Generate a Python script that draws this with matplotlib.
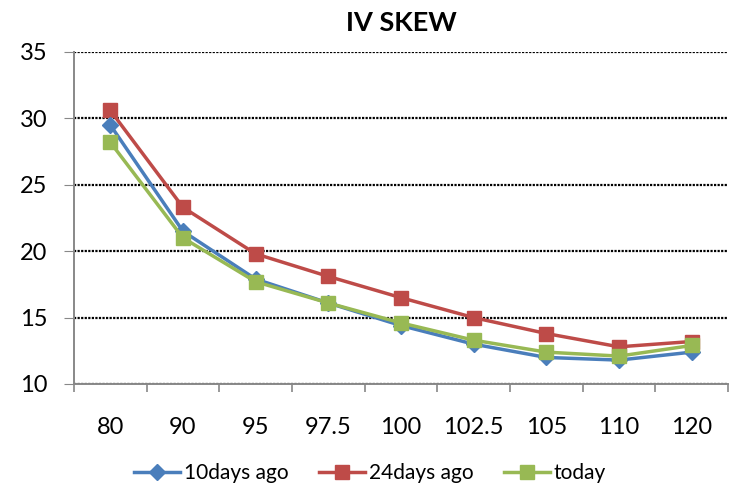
import matplotlib
matplotlib.use("Agg")
import matplotlib.pyplot as plt
from matplotlib.ticker import FixedLocator

categories = ["80", "90", "95", "97.5", "100", "102.5", "105", "110", "120"]
days10 = [29.5, 21.5, 17.9, 16.1, 14.4, 13.0, 12.0, 11.8, 12.4]
days24 = [30.6, 23.3, 19.8, 18.1, 16.5, 15.0, 13.8, 12.8, 13.2]
today = [28.2, 21.0, 17.7, 16.1, 14.6, 13.3, 12.4, 12.1, 12.9]

plt.rcParams['font.family'] = ['Lato', 'DejaVu Sans']

fig = plt.figure(figsize=(7.31, 4.91), dpi=100)
ax = fig.add_axes([74/731, 1-384/491, (728-74)/731, (384-52)/491])

x = list(range(len(categories)))
ax.plot(x, days10, color="#4a7ebb", lw=2.5, marker="D", ms=8, label="10days ago", zorder=3)
ax.plot(x, days24, color="#be4b48", lw=2.5, marker="s", ms=10, label="24days ago", zorder=2)
ax.plot(x, today, color="#98b954", lw=2.5, marker="s", ms=10, label="today", zorder=4)

ax.set_xlim(-0.5, len(categories) - 0.5)
ax.set_ylim(10, 35)
ax.set_yticks([10, 15, 20, 25, 30, 35])
ax.set_xticks(x)
ax.set_xticklabels(categories)
ax.xaxis.set_minor_locator(FixedLocator([i - 0.5 for i in range(len(categories) + 1)]))
ax.tick_params(axis='x', which='major', length=0, labelsize=17, pad=24)
ax.tick_params(axis='x', which='minor', length=6, color="#888888", width=1.2)
ax.tick_params(axis='y', length=7, color="#888888", labelsize=17, pad=12)
for t in ax.yaxis.get_major_ticks():
    t.tick1line.set_linestyle((0, (1, 1)))

ax.grid(axis='y', color='black', linestyle=(0, (1, 0.6)), lw=1.6)
for s in ['top', 'right']:
    ax.spines[s].set_visible(False)
ax.spines['left'].set_color("#888888")
ax.spines['left'].set_linestyle((0, (1, 1)))
ax.spines['left'].set_linewidth(1.4)
ax.spines['bottom'].set_color("#888888")
ax.spines['bottom'].set_linewidth(1.4)

ax.set_title("IV SKEW", fontsize=19.5, fontweight='bold', pad=15)

fig.legend(loc='center', bbox_to_anchor=(370/731, 1-473/491), ncol=3, frameon=False,
           fontsize=15, handlelength=2.2, columnspacing=1.45, handletextpad=0.2)

fig.savefig("out.png", dpi=100)
